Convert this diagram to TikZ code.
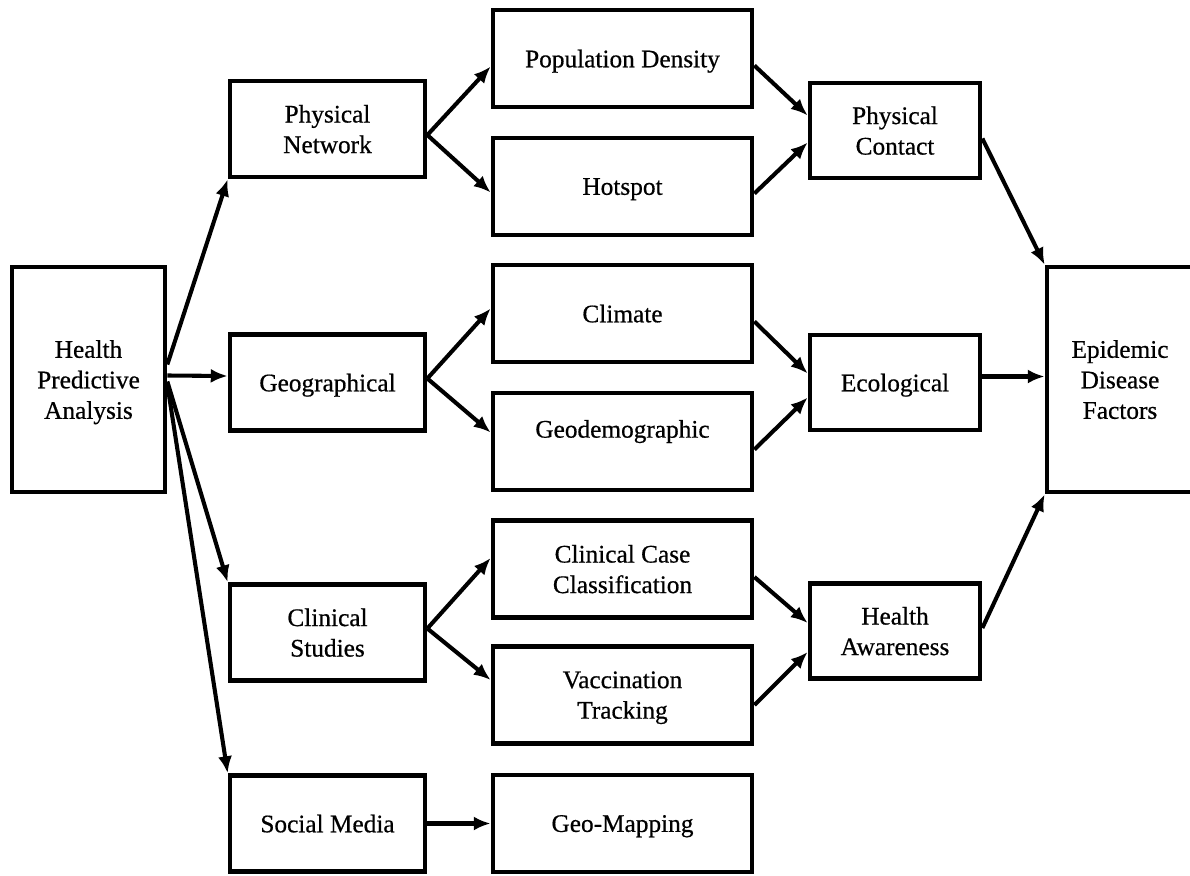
\documentclass[tikz,border=0pt]{standalone}
\usepackage{fontspec}
\setmainfont{Liberation Serif}
\newfontfamily\boxfont{Liberation Serif}[FakeBold=0.6]
\usetikzlibrary{arrows.meta,calc}

\tikzset{
  box/.style={draw, line width=3.3pt, align=center, inner sep=1pt, text depth=0pt,
    font=\boxfont\fontsize{18}{21.7}\selectfont},
  hubbox/.style={box, minimum width=3.825cm, minimum height=5.625cm},
  srcbox/.style={box, minimum width=4.875cm, minimum height=2.4cm},
  leafbox/.style={box, minimum width=6.475cm, minimum height=2.425cm},
  factbox/.style={box, minimum width=4.25cm, minimum height=2.375cm},
  link/.style={line width=2.9pt, -{Latex[length=12pt,width=10pt]}}
}

\begin{document}
\begin{tikzpicture}[x=0.025cm, y=-0.025cm]

\useasboundingbox (0,0) rectangle (1190,875);

% left hub
\node[hubbox] (hpa) at (88.5,379.5) {Health\\Predictive\\Analysis};

% sources
\node[srcbox] (pn)  at (327.5,129)   {Physical\\Network};
\node[srcbox] (geo) at (327.5,382.5) {Geographical};
\node[srcbox] (cs)  at (327.5,632.5) {Clinical\\Studies};
\node[srcbox] (sm)  at (327.5,823.5) {Social Media};

% data
\node[leafbox] (pd)  at (622.5,58.5)  {Population Density};
\node[leafbox] (hs)  at (622.5,186.5) {Hotspot};
\node[leafbox] (cl)  at (622.5,313.5) {Climate};
\node[leafbox, text depth=18pt] (gd) at (622.5,441.5) {Geodemographic};
\node[leafbox] (ccc) at (622.5,569)   {Clinical Case\\Classification};
\node[leafbox] (vt)  at (622.5,695)   {Vaccination\\Tracking};
\node[leafbox] (gm)  at (622.5,823.5) {Geo-Mapping};

% factors
\node[factbox] (pc)  at (895,130.5) {Physical\\Contact};
\node[factbox] (eco) at (895,382.5) {Ecological};
\node[factbox] (ha)  at (895,631)   {Health\\Awareness};

\node[box, minimum width=3.65cm, minimum height=5.625cm] (edf) at (1120,379.5)
  {Epidemic\\Disease\\Factors};

\draw[link] ($(hpa.east)+(0,-15)$) -- (pn.south west);
\draw[link] ($(hpa.east)+(0,-4)$) -- ($(geo.west)+(0,-6.5)$);
\draw[link] ($(hpa.east)+(0,2)$) -- (cs.north west);
\draw[link] ($(hpa.east)+(0,5)$) -- (sm.north west);

\draw[link] ($(pn.east)+(0,6)$) -- ($(pd.west)+(0,8)$);
\draw[link] ($(pn.east)+(0,6)$) -- ($(hs.west)+(0,6)$);
\draw[link] ($(geo.east)+(0,-4)$) -- ($(cl.west)+(0,-5)$);
\draw[link] ($(geo.east)+(0,-4)$) -- ($(gd.west)+(0,-9)$);
\draw[link] ($(cs.east)+(0,-4)$) -- ($(ccc.west)+(0,-11)$);
\draw[link] ($(cs.east)+(0,-4)$) -- ($(vt.west)+(0,-15)$);
\draw[link] (sm.east) -- (gm.west);

\draw[link] ($(pd.east)+(0,7)$) -- ($(pc.west)+(0,-15)$);
\draw[link] ($(hs.east)+(0,7)$) -- ($(pc.west)+(0,12)$);
\draw[link] ($(cl.east)+(0,8)$) -- ($(eco.west)+(0,-9)$);
\draw[link] ($(gd.east)+(0,8)$) -- ($(eco.west)+(0,15)$);
\draw[link] ($(ccc.east)+(0,8)$) -- ($(ha.west)+(0,-8)$);
\draw[link] ($(vt.east)+(0,10)$) -- ($(ha.west)+(0,21)$);

\draw[link] ($(pc.east)+(0,8)$) -- (edf.north west);
\draw[link] ($(eco.east)+(0,-6)$) -- ($(edf.west)+(0,-3)$);
\draw[link] ($(ha.east)+(0,-3)$) -- (edf.south west);

\end{tikzpicture}
\end{document}
